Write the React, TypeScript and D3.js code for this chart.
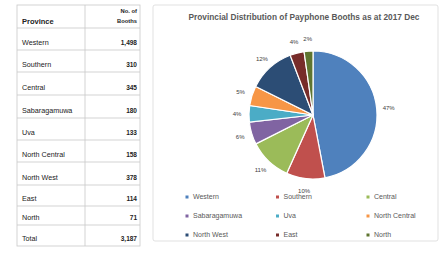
import React from 'react';
import * as d3 from 'd3';

// provinces and booth counts (table + pie)
const provinces = ['Western', 'Southern', 'Central', 'Sabaragamuwa', 'Uva', 'North Central', 'North West', 'East', 'North'];
const booths = [1498, 310, 345, 180, 133, 158, 378, 114, 71];
const sliceColors = ['#4F81BD', '#C0504D', '#9BBB59', '#8064A2', '#4BACC6', '#F79646', '#2C4D75', '#772C2A', '#5F7530'];
const totalLabel = 'Total';
const title = 'Provincial Distribution of Payphone Booths as at 2017 Dec';

const W = 441;
const H = 256;

// table geometry
const tLeft = 17;
const tMid = 85;
const tRight = 140;
const rowLines = [5, 28, 50, 72, 95, 118, 140, 162, 185, 206, 225, 246];

function Table() {
  const fmt = d3.format(',');
  const total = d3.sum(booths);
  const rows = [...provinces.map((p, i) => [p, fmt(booths[i])]), [totalLabel, fmt(total)]];
  return (
    <g fontFamily="'Liberation Sans', Arial, sans-serif" fill="#222">
      <rect x={tLeft} y={rowLines[0]} width={tRight - tLeft} height={rowLines[rowLines.length - 1] - rowLines[0]} fill="white" stroke="#c8c8c8" strokeWidth={0.8} />
      <line x1={tMid} x2={tMid} y1={rowLines[0]} y2={rowLines[rowLines.length - 1]} stroke="#c8c8c8" strokeWidth={0.8} />
      {rowLines.slice(1, -1).map((y, i) => (
        <line key={i} x1={tLeft} x2={tRight} y1={y} y2={y} stroke="#c8c8c8" strokeWidth={0.8} />
      ))}
      <text x={tLeft + 5} y={24} fontSize={7.5} fontWeight="bold">Province</text>
      <text x={tRight - 3} y={13} fontSize={5.8} fontWeight="bold" textAnchor="end">No. of</text>
      <text x={tRight - 3} y={23} fontSize={5.8} fontWeight="bold" textAnchor="end">Booths</text>
      {rows.map((r, i) => {
        const y = rowLines[i + 2] - 5;
        return (
          <g key={r[0]}>
            <text x={tLeft + 5} y={y} fontSize={7.2}>{r[0]}</text>
            <text x={tRight - 3} y={y} fontSize={6.5} fontWeight="bold" textAnchor="end">{r[1]}</text>
          </g>
        );
      })}
    </g>
  );
}

function PieChart() {
  const cx = 313;
  const cy = 115;
  const r = 64;
  const total = d3.sum(booths);
  const pie = d3.pie<number>().sort(null).value((d) => d);
  const arcs = pie(booths);
  const arc = d3.arc<d3.PieArcDatum<number>>().innerRadius(0).outerRadius(r);
  const labelArc = d3.arc<d3.PieArcDatum<number>>().innerRadius(r + 12).outerRadius(r + 12);

  // legend grid
  const legX = d3.scalePoint<number>().domain([0, 1, 2]).range([187, 368]);
  const legY = d3.scalePoint<number>().domain([0, 1, 2]).range([197, 235]);

  return (
    <g fontFamily="'Liberation Sans', Arial, sans-serif">
      <rect x={153} y={5} width={285} height={236} rx={2} fill="white" stroke="#d9d9d9" strokeWidth={0.8} />
      <text x={304} y={20} textAnchor="middle" fontSize={8.3} fontWeight="bold" fill="#595959">{title}</text>
      <g transform={`translate(${cx},${cy})`}>
        {arcs.map((a, i) => (
          <path key={i} d={arc(a) || ''} fill={sliceColors[i]} stroke="white" strokeWidth={1.2} />
        ))}
        {arcs.map((a, i) => {
          const [lx, ly] = labelArc.centroid(a);
          return (
            <text key={'l' + i} x={lx} y={ly} dy="0.35em" textAnchor="middle" fontSize={6} fill="#404040">
              {Math.round((booths[i] / total) * 100) + '%'}
            </text>
          );
        })}
      </g>
      {provinces.map((p, i) => {
        const x = legX(i % 3) as number;
        const y = legY(Math.floor(i / 3)) as number;
        return (
          <g key={p}>
            <rect x={x - 1.5} y={y - 1.5} width={3} height={3} fill={sliceColors[i]} />
            <text x={x + 6} y={y} dy="0.35em" fontSize={7} fill="#595959">{p}</text>
          </g>
        );
      })}
    </g>
  );
}

export default function App() {
  return (
    <svg width={W} height={H} style={{ position: 'absolute', left: 0, top: 0, background: 'white' }}>
      <Table />
      <PieChart />
    </svg>
  );
}
